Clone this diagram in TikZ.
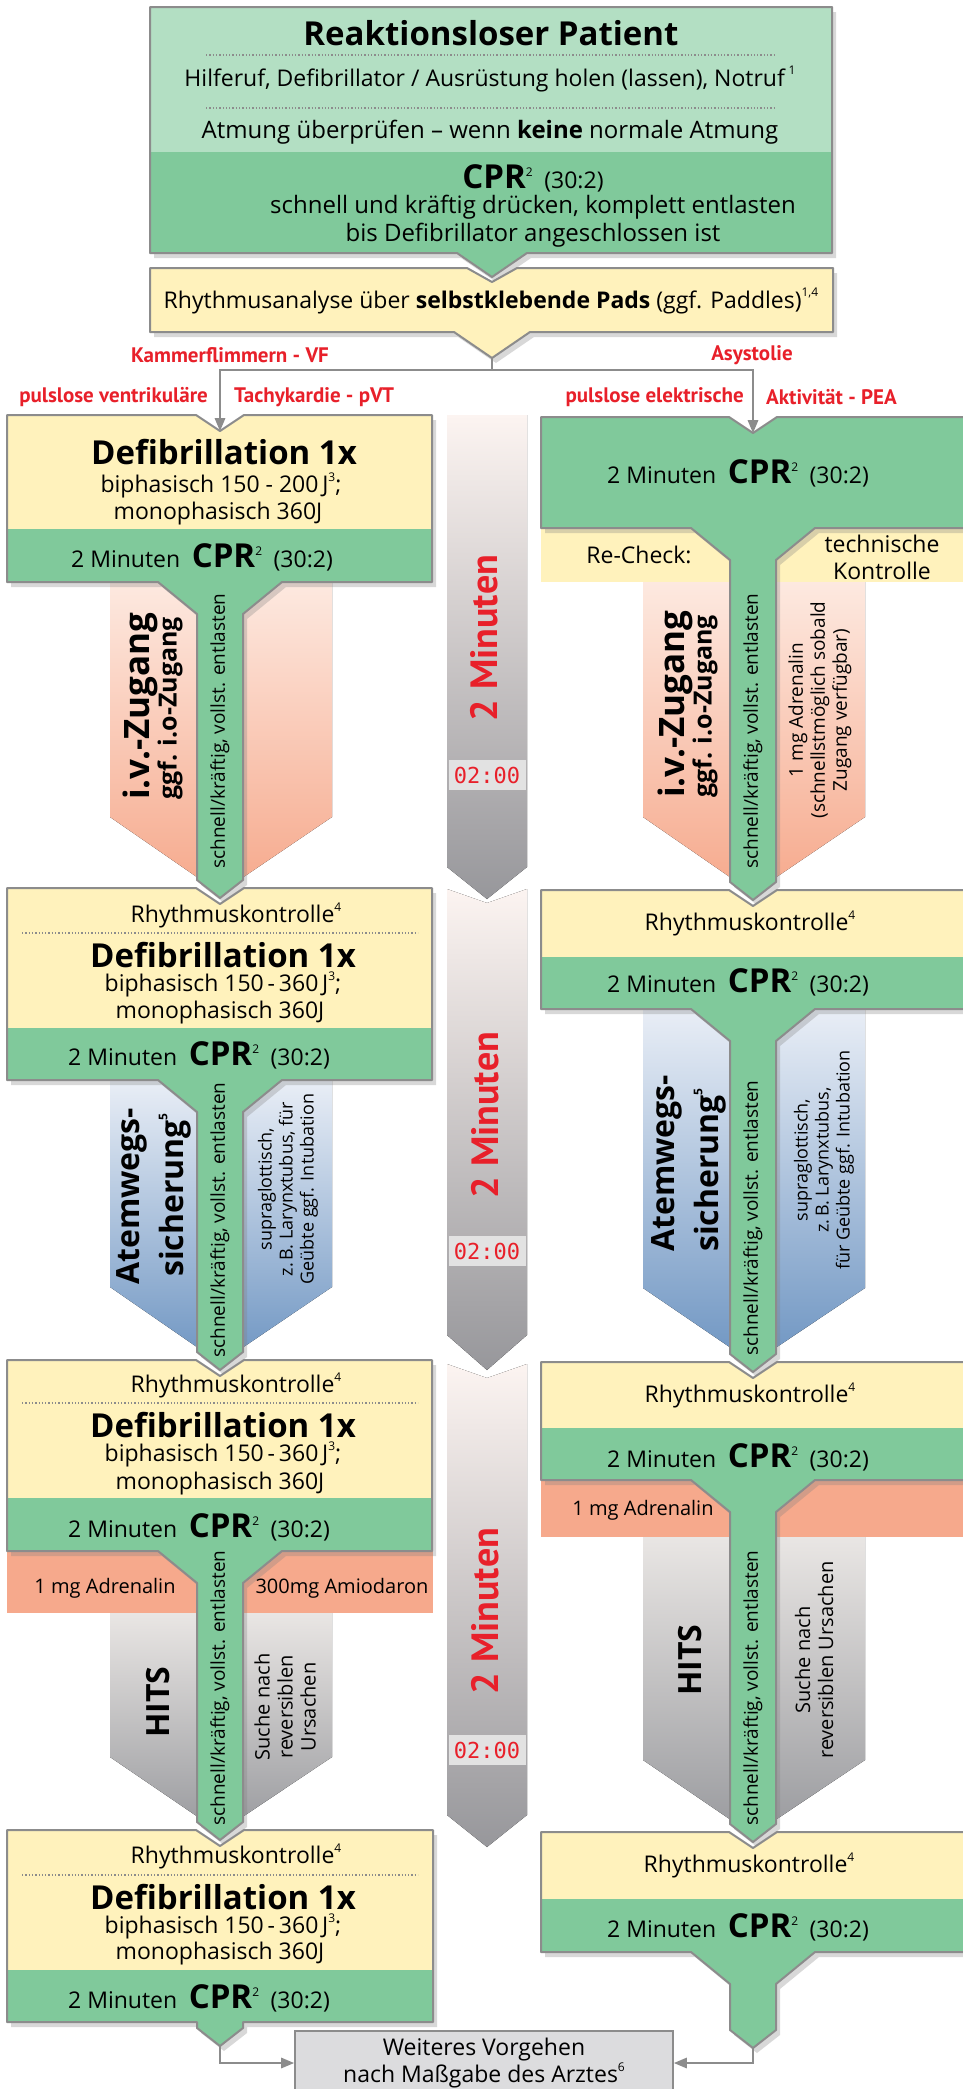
\documentclass[tikz,border=0pt]{standalone}
\usepackage{fontspec}
\setmainfont{Open Sans}
\newfontfamily\schmal{PT Sans}
\newfontfamily\uhrfont{DejaVu Sans Mono}
\usepackage{xcolor}
\usepackage{tikz}
\usetikzlibrary{arrows, positioning, calc, shadows}

\definecolor{hellgruen}{HTML}{B3DFC3}
\definecolor{gruen}{HTML}{80C99B}
\definecolor{gelb}{HTML}{FFF2BC}
\definecolor{lachs}{HTML}{F6A98C}
\definecolor{orangehell}{HTML}{FDE9E0}
\definecolor{blauhell}{HTML}{E9EEF6}
\definecolor{blau}{HTML}{6E95C2}
\definecolor{grauhell}{HTML}{E9E6E4}
\definecolor{graudunkel}{HTML}{999A9E}
\definecolor{pfeilhell}{HTML}{FCF4F1}
\definecolor{pfeildunkel}{HTML}{97979B}
\definecolor{rahmen}{HTML}{8C8C8C}
\definecolor{rot}{HTML}{E8202A}
\definecolor{grau}{HTML}{DCDCDE}
\definecolor{uhrgrau}{HTML}{E2E2E2}

\newcommand{\hoch}[1]{\smash{\raisebox{.5em}{\fontsize{12}{12}\selectfont #1}}}
\newcommand{\zweimin}{2 Minuten\enspace{\fontsize{33}{38}\selectfont\bfseries CPR}\hoch{2}\enspace(30:2)}

% outline of a column box: xl, xr, top, bottom, centre x, stem end
\newcommand{\umriss}[6]{(#1,#3) -- (#5-24,#3) -- (#5,#3+16) -- (#5+24,#3) -- (#2,#3) -- (#2,#4)
  -- (#5+62,#4) -- (#5+23,#4+32) -- (#5+23,#6) -- (#5,#6+18) -- (#5-23,#6) -- (#5-23,#4+32)
  -- (#5-62,#4) -- (#1,#4) -- cycle}
% column box: xl, xr, top, yellow/green split, bottom, centre x, stem end
\newcommand{\saeule}[7]{%
  \fill[gruen, schatten] \umriss{#1}{#2}{#3}{#5}{#6}{#7};
  \begin{scope}
    \clip \umriss{#1}{#2}{#3}{#5}{#6}{#7};
    \fill[gelb] (#1,#3) rectangle (#2,#4);
  \end{scope}
  \draw[rahmenlinie] \umriss{#1}{#2}{#3}{#5}{#6}{#7};
}
\newcommand{\kopf}{(150,7) -- (832,7) -- (832,253) -- (527,253) -- (492,277) -- (457,253) -- (150,253) -- cycle}
\newcommand{\analyse}{(150,268) -- (467,268) -- (492,282) -- (517,268) -- (833,268) -- (833,332)
  -- (530,332) -- (492,358) -- (454,332) -- (150,332) -- cycle}
\newcommand{\letzte}{(7,1830) -- (196,1830) -- (220,1846) -- (244,1830) -- (433,1830) -- (433,2022)
  -- (243,2022) -- (243,2028) -- (220,2046) -- (197,2028) -- (197,2022) -- (7,2022) -- cycle}

\begin{document}
\begin{tikzpicture}[x=1pt, y=-1pt,
    txt/.style={font=\fontsize{23}{27}\selectfont, inner sep=0pt},
    titel/.style={font=\fontsize{33}{38}\selectfont\bfseries, inner sep=0pt},
    stamm/.style={font=\fontsize{19}{22}\selectfont, rotate=90, inner sep=0pt},
    klein/.style={font=\fontsize{18}{21}\selectfont, rotate=90, align=center, inner sep=0pt},
    mittel/.style={font=\fontsize{20}{23}\selectfont, inner sep=0pt, align=center},
    gross/.style={font=\fontsize{#1}{#1}\selectfont\bfseries, rotate=90, inner sep=0pt},
    rotlabel/.style={font=\schmal\fontsize{21}{23}\selectfont\bfseries, text=rot, inner sep=0pt},
    minuten/.style={font=\schmal\fontsize{38}{38}\selectfont\bfseries, text=rot, rotate=90, inner sep=0pt},
    uhr/.style={fill=uhrgrau, text=rot, font=\uhrfont\fontsize{22}{22}\selectfont, inner sep=0pt,
      minimum width=77, minimum height=30},
    schatten/.style={drop shadow={shadow xshift=4pt, shadow yshift=-5pt, opacity=.3}},
    rahmenlinie/.style={draw=rahmen, line width=2pt, line join=round},
    punktlinie/.style={rahmen, dotted, line width=1.3pt},
    linie/.style={rahmen, line width=2pt},
    pfeil/.style={linie, ->, >=triangle 45}
]
\fill[white] (0,0) rectangle (963,2089);
\useasboundingbox (0,0) rectangle (963,2089);

% bands behind the boxes
\fill[top color=orangehell, bottom color=lachs] (110,582) -- (332,582) -- (332,817) -- (220,893) -- (110,817) -- cycle;
\fill[top color=orangehell, bottom color=lachs] (643,582) -- (865,582) -- (865,817) -- (753,893) -- (643,817) -- cycle;
\fill[top color=blauhell, bottom color=blau] (110,1080) -- (332,1080) -- (332,1287) -- (220,1363) -- (110,1287) -- cycle;
\fill[top color=blauhell, bottom color=blau] (643,1009) -- (865,1009) -- (865,1288) -- (753,1363) -- (643,1288) -- cycle;
\fill[top color=grauhell, bottom color=graudunkel] (110,1613) -- (332,1613) -- (332,1757) -- (220,1832) -- (110,1757) -- cycle;
\fill[top color=grauhell, bottom color=graudunkel] (643,1537) -- (865,1537) -- (865,1760) -- (753,1835) -- (643,1760) -- cycle;
\fill[gelb] (541,528) rectangle (963,582);
\fill[lachs] (7,1551) rectangle (433,1613);
\fill[lachs] (541,1480) rectangle (963,1537);

% two minute arrows
\fill[top color=pfeilhell, bottom color=pfeildunkel] (447,415) -- (527,415) -- (527,867) -- (487,899) -- (447,867) -- cycle;
\fill[top color=pfeilhell, bottom color=pfeildunkel] (447,889) -- (487,903) -- (527,889) -- (527,1335) -- (487,1370) -- (447,1335) -- cycle;
\fill[top color=pfeilhell, bottom color=pfeildunkel] (447,1364) -- (487,1378) -- (527,1364) -- (527,1815) -- (487,1847) -- (447,1815) -- cycle;

% head boxes
\fill[hellgruen, schatten] \kopf;
\begin{scope}
  \clip \kopf;
  \fill[gruen] (150,152) rectangle (832,290);
\end{scope}
\draw[rahmenlinie] \kopf;
\fill[gelb, schatten] \analyse;
\draw[rahmenlinie] \analyse;

% columns
\saeule{7}{432}{415}{529}{582}{220}{880}
\saeule{7}{432}{888}{1028}{1080}{220}{1352}
\saeule{7}{432}{1360}{1498}{1551}{220}{1822}
\fill[gruen, schatten] \letzte;
\begin{scope}
  \clip \letzte;
  \fill[gelb] (7,1830) rectangle (433,1970);
\end{scope}
\draw[rahmenlinie] \letzte;
\saeule{541}{975}{417}{417}{528}{753}{882}
\saeule{541}{975}{890}{957}{1009}{753}{1354}
\saeule{541}{975}{1362}{1428}{1480}{753}{1824}
\saeule{541}{975}{1832}{1899}{1952}{753}{2030}

% head texts
\node[titel] (patient) at (491,33) {Reaktionsloser Patient};
\draw[punktlinie] (206,55) -- (776,55);
\node[txt] (hilferuf) at (490,80) {Hilferuf, Defibrillator / Ausrüstung holen (lassen), Notruf\,\hoch{1}};
\draw[punktlinie] (206,108) -- (776,108);
\node[txt, font=\fontsize{24}{28}\selectfont] (atmung) at (490,132) {Atmung überprüfen – wenn \textbf{keine} normale Atmung};
\node[txt] (cprstart) at (533,178) {{\fontsize{33}{38}\selectfont\bfseries CPR}\hoch{2}\enspace(30:2)};
\node[txt, align=center, font=\fontsize{24}{28}\selectfont] (druecken) at (533,221) {schnell und kräftig drücken, komplett entlasten\\bis Defibrillator angeschlossen ist};
\node[txt] (rhythmus) at (491,302) {Rhythmusanalyse über \textbf{selbstklebende Pads} (ggf. Paddles)\hoch{1,4}};

% branch labels
\node[rotlabel] (vf) at (230,355) {Kammerflimmern - VF};
\node[rotlabel] (asys) at (752,355) {Asystolie};
\node[rotlabel, anchor=east] (pvta) at (208,397) {pulslose ventrikuläre};
\node[rotlabel, anchor=west] (pvtb) at (234,397) {Tachykardie - pVT};
\node[rotlabel, anchor=east] (peaa) at (744,397) {pulslose elektrische};
\node[rotlabel, anchor=west] (peab) at (766,397) {Aktivität - PEA};

\coordinate (atip) at (492,358);
\coordinate (gabel) at (492,370);
\coordinate (kerbeL) at (220,431);
\coordinate (kerbeR) at (753,433);
\draw[linie] (atip) -- (gabel);
\draw[pfeil] (gabel) -| (kerbeL);
\draw[pfeil] (gabel) -| (kerbeR);

% left column
\node[titel] (defiA) at (224,452) {Defibrillation 1x};
\node[txt] (biA) at (221,487) {biphasisch 150 - 200\,J\hoch{3};};
\node[txt] (monoA) at (218,514) {monophasisch 360J};
\node[txt] (cprA) at (202,557) {\zweimin};
\node[stamm] (stammA) at (220,731) {schnell/kräftig, vollst. entlasten};
\node[gross=35, anchor=west] (ivA) at (140,800) {i.v.-Zugang};
\node[gross=25, anchor=west] (ioA) at (170,800) {ggf. i.o-Zugang};

\node[txt] (rhyB) at (236,917) {Rhythmuskontrolle\hoch{4}};
\draw[punktlinie] (22,933) -- (418,933);
\node[titel] (defiB) at (223,955) {Defibrillation 1x};
\node[txt] (biB) at (223,986) {biphasisch 150\,-\,360\,J\hoch{3};};
\node[txt] (monoB) at (220,1013) {monophasisch 360J};
\node[txt] (cprB) at (199,1055) {\zweimin};
\node[stamm] (stammB) at (220,1220) {schnell/kräftig, vollst. entlasten};
\node[gross=32, anchor=west] (atemB) at (132,1285) {Atemwegs-};
\node[gross=32, anchor=west] (sicherB) at (175,1277) {sicherung\hoch{5}};
\node[klein] (supraB) at (288,1189) {supraglottisch,\\z.\,B. Larynxtubus, für\\Geübte ggf. Intubation};

\node[txt] (rhyC) at (236,1387) {Rhythmuskontrolle\hoch{4}};
\draw[punktlinie] (22,1403) -- (418,1403);
\node[titel] (defiC) at (223,1425) {Defibrillation 1x};
\node[txt] (biC) at (223,1456) {biphasisch 150\,-\,360\,J\hoch{3};};
\node[txt] (monoC) at (220,1484) {monophasisch 360J};
\node[txt] (cprC) at (199,1527) {\zweimin};
\node[mittel] (adrC) at (105,1588) {1 mg Adrenalin};
\node[mittel] (amioC) at (342,1588) {300mg Amiodaron};
\node[stamm] (stammC) at (220,1688) {schnell/kräftig, vollst. entlasten};
\node[gross=32] (hitsC) at (158,1702) {HITS};
\node[mittel, rotate=90] (sucheC) at (285,1707) {Suche nach\\reversiblen\\Ursachen};

\node[txt] (rhyD) at (236,1858) {Rhythmuskontrolle\hoch{4}};
\draw[punktlinie] (22,1875) -- (418,1875);
\node[titel] (defiD) at (223,1897) {Defibrillation 1x};
\node[txt] (biD) at (223,1928) {biphasisch 150\,-\,360\,J\hoch{3};};
\node[txt] (monoD) at (220,1954) {monophasisch 360J};
\node[txt] (cprD) at (199,1998) {\zweimin};

% right column
\node[txt] (cprE) at (738,473) {\zweimin};
\node[txt] (recheck) at (639,555) {Re-Check:};
\node[txt, align=center] (technik) at (882,557) {technische\\Kontrolle};
\node[stamm] (stammE) at (753,731) {schnell/kräftig, vollst. entlasten};
\node[gross=35, anchor=west] (ivE) at (675,798) {i.v.-Zugang};
\node[gross=25, anchor=west] (ioE) at (705,798) {ggf. i.o-Zugang};
\node[klein, font=\fontsize{19}{22}\selectfont] (adrE) at (820,710) {1 mg Adrenalin\\(schnellstmöglich sobald\\Zugang verfügbar)};

\node[txt] (rhyF) at (750,925) {Rhythmuskontrolle\hoch{4}};
\node[txt] (cprF) at (738,982) {\zweimin};
\node[stamm] (stammF) at (753,1218) {schnell/kräftig, vollst. entlasten};
\node[gross=32, anchor=west] (atemF) at (667,1252) {Atemwegs-};
\node[gross=32, anchor=west] (sicherF) at (710,1252) {sicherung\hoch{5}};
\node[klein] (supraF) at (824,1160) {supraglottisch,\\z.\,B. Larynxtubus,\\für Geübte ggf. Intubation};

\node[txt] (rhyG) at (750,1397) {Rhythmuskontrolle\hoch{4}};
\node[txt] (cprG) at (738,1457) {\zweimin};
\node[mittel] (adrG) at (643,1510) {1 mg Adrenalin};
\node[stamm] (stammG) at (753,1688) {schnell/kräftig, vollst. entlasten};
\node[gross=32] (hitsG) at (690,1660) {HITS};
\node[mittel, rotate=90] (sucheG) at (814,1660) {Suche nach\\reversiblen Ursachen};

\node[txt] (rhyH) at (749,1867) {Rhythmuskontrolle\hoch{4}};
\node[txt] (cprH) at (738,1927) {\zweimin};

% two minute marks
\node[minuten] (minA) at (484,638) {2 Minuten};
\node[uhr] (uhrA) at (487,775) {02:00};
\node[minuten] (minB) at (485,1115) {2 Minuten};
\node[uhr] (uhrB) at (487,1251) {02:00};
\node[minuten] (minC) at (485,1611) {2 Minuten};
\node[uhr] (uhrC) at (487,1750) {02:00};

% end
\node[txt, draw=rahmen, line width=2pt, fill=grau, minimum width=378, minimum height=64,
  anchor=north, align=center] (weiter) at (484,2030) {Weiteres Vorgehen\\nach Maßgabe des Arztes\hoch{6}};
\coordinate (spitzeL) at (220,2046);
\coordinate (spitzeR) at (753,2048);
\draw[pfeil] (spitzeL) |- (weiter.west);
\draw[pfeil] (spitzeR) |- (weiter.east);
\end{tikzpicture}
\end{document}
